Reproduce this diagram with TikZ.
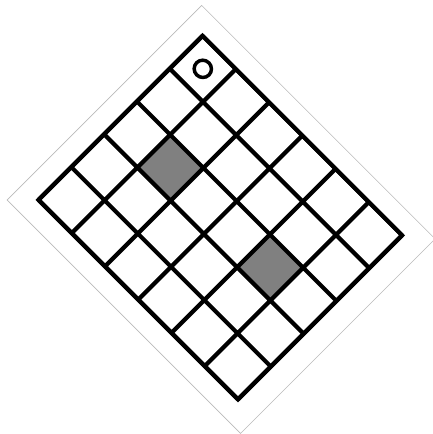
\documentclass[tikz,border=0pt]{standalone}
\begin{document}
\begin{tikzpicture}
\useasboundingbox (0,0) rectangle (9.19,9.23);
\begin{scope}[shift={(0.819,4.979)}, rotate=-45, yscale=0.987]
\draw[gray!55, line width=0.35pt] (-0.47,-0.48) rectangle (6.55,5.45);

\fill[black!50] (1,2) rectangle (2,3);
\fill[black!50] (4,2) rectangle (5,3);

\draw[line width=2.5pt] (0,0) grid (6,5);
\draw[line width=2.5pt] (0,0) rectangle (6,5);

\draw[line width=2.1pt] (0.5,4.5) circle (0.185);
\end{scope}
\end{tikzpicture}
\end{document}
